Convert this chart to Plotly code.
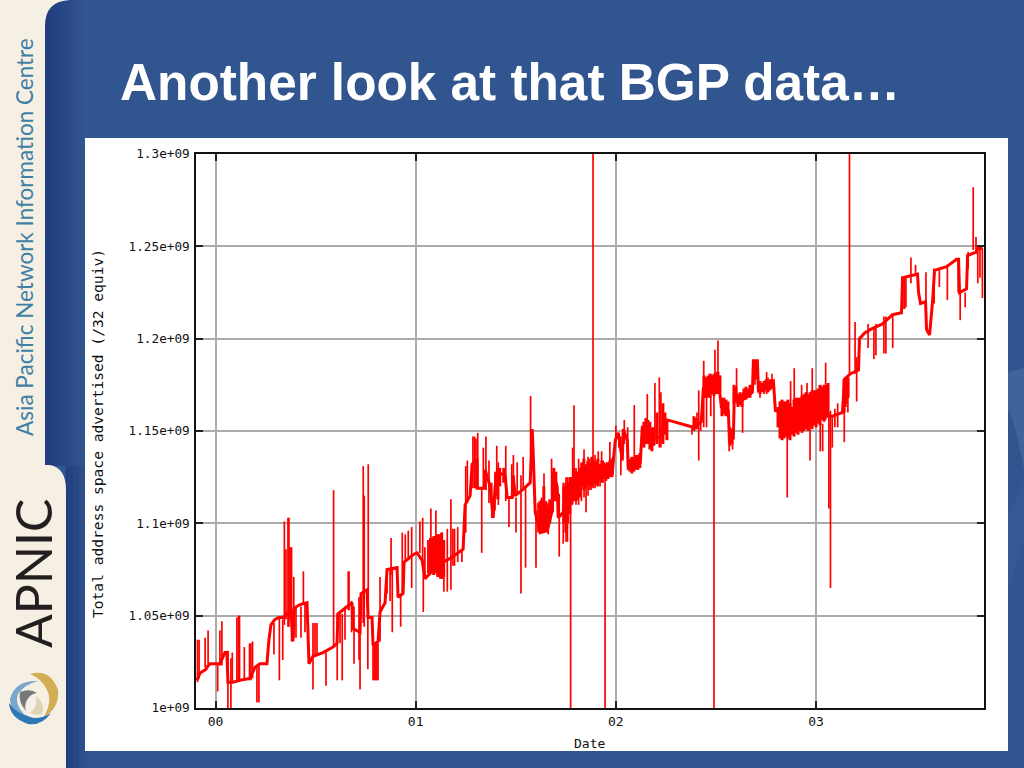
import plotly.graph_objects as go

title_text = "Another look at that BGP data…"
y_title = "Total address space advertised (/32 equiv)"
x_title = "Date"
y_ticks = [1.0e9, 1.05e9, 1.1e9, 1.15e9, 1.2e9, 1.25e9, 1.3e9]
y_labels = ["1e+09", "1.05e+09", "1.1e+09", "1.15e+09", "1.2e+09", "1.25e+09", "1.3e+09"]
x_ticks = [0, 1, 2, 3]
x_labels = ["00", "01", "02", "03"]

# main level of the series: year offset, millions of addresses
base_years = [-0.092, -0.077, -0.047, -0.044, -0.027, 0.022, 0.047, 0.057, 0.062, 0.087, 0.122, 0.172, 0.197, 0.222, 0.257,
              0.267, 0.277, 0.297, 0.317, 0.337, 0.357, 0.377, 0.387, 0.392, 0.422, 0.457, 0.462, 0.467, 0.487, 0.537,
              0.587, 0.607, 0.612, 0.647, 0.682, 0.687, 0.722, 0.727, 0.757, 0.762, 0.782, 0.787, 0.812, 0.822, 0.847,
              0.857, 0.907, 0.912, 0.937, 0.942, 0.987, 1.007, 1.032, 1.047, 1.072, 1.137, 1.172, 1.237, 1.247, 1.272,
              1.282, 1.307, 1.307, 1.347, 1.347, 1.372, 1.387, 1.397, 1.422, 1.447, 1.457, 1.482, 1.487, 1.497, 1.532,
              1.572, 1.582, 1.587, 1.597, 1.622, 1.657, 1.682, 1.687, 1.707, 1.712, 1.737, 1.747, 1.787, 1.807, 1.837,
              1.872, 1.922, 1.957, 1.982, 1.997, 2.012, 2.032, 2.037, 2.057, 2.062, 2.122, 2.132, 2.172, 2.182, 2.222,
              2.247, 2.257, 2.387, 2.427, 2.437, 2.472, 2.512, 2.527, 2.562, 2.567, 2.587, 2.592, 2.612, 2.647, 2.682,
              2.687, 2.707, 2.712, 2.787, 2.797, 3.082, 3.132, 3.142, 3.172, 3.212, 3.217, 3.242, 3.272, 3.332, 3.382,
              3.427, 3.432, 3.467, 3.507, 3.512, 3.522, 3.547, 3.552, 3.567, 3.582, 3.592, 3.617, 3.652, 3.702, 3.712,
              3.717, 3.752, 3.757, 3.802, 3.807, 3.832]
base_values = [1015, 1019, 1021, 1022, 1024, 1024, 1030, 1030, 1014, 1014, 1015, 1016, 1022, 1024, 1024,
               1037, 1045, 1048, 1049, 1049, 1051, 1053, 1036, 1054, 1056, 1057, 1041, 1024, 1028, 1030,
               1033, 1035, 1051, 1054, 1057, 1043, 1041, 1062, 1064, 1049, 1049, 1034, 1036, 1052, 1057,
               1075, 1076, 1060, 1062, 1079, 1083, 1084, 1080, 1070, 1073, 1079, 1081, 1086, 1110, 1115,
               1132, 1135, 1119, 1119, 1129, 1120, 1103, 1120, 1127, 1126, 1114, 1114, 1126, 1115, 1118,
               1122, 1151, 1138, 1106, 1095, 1096, 1107, 1127, 1120, 1103, 1106, 1116, 1118, 1113, 1127,
               1129, 1127, 1126, 1127, 1145, 1149, 1134, 1151, 1145, 1130, 1133, 1152, 1151, 1145, 1147,
               1156, 1156, 1152, 1155, 1173, 1176, 1178, 1163, 1161, 1145, 1146, 1171, 1165, 1168, 1171,
               1188, 1188, 1172, 1177, 1161, 1158, 1160, 1178, 1181, 1183, 1200, 1203, 1205, 1208, 1213,
               1214, 1233, 1234, 1235, 1225, 1219, 1220, 1205, 1202, 1220, 1237, 1238, 1239, 1243, 1243,
               1225, 1227, 1245, 1247, 1249, 1249]

# short excursions away from the main level
spike_years = [-0.090, -0.082, -0.052, -0.037, 0.011, 0.022, 0.032, 0.062, 0.077, 0.084, 0.107, 0.115, 0.120, 0.144, 0.170,
               0.177, 0.185, 0.207, 0.217, 0.292, 0.319, 0.336, 0.344, 0.352, 0.362, 0.367, 0.372, 0.377, 0.380, 0.391,
               0.402, 0.427, 0.439, 0.447, 0.487, 0.497, 0.507, 0.552, 0.590, 0.608, 0.622, 0.633, 0.647, 0.663, 0.667,
               0.680, 0.692, 0.717, 0.722, 0.738, 0.743, 0.763, 0.761, 0.787, 0.792, 0.797, 0.802, 0.807, 0.812, 0.822,
               0.857, 0.872, 0.877, 0.883, 0.925, 0.933, 0.948, 0.963, 0.980, 1.021, 1.035, 1.038, 1.046, 1.061, 1.071,
               1.076, 1.081, 1.091, 1.101, 1.111, 1.121, 1.131, 1.141, 1.158, 1.176, 1.186, 1.194, 1.210, 1.231, 1.250,
               1.258, 1.286, 1.294, 1.301, 1.310, 1.330, 1.338, 1.351, 1.366, 1.380, 1.396, 1.405, 1.413, 1.450, 1.466,
               1.480, 1.488, 1.501, 1.507, 1.526, 1.537, 1.549, 1.574, 1.601, 1.611, 1.629, 1.641, 1.662, 1.679, 1.686,
               1.717, 1.737, 1.751, 1.758, 1.774, 1.784, 1.791, 1.801, 1.814, 1.821, 1.828, 1.841, 1.851, 1.861, 1.868,
               1.876, 1.886, 1.896, 1.906, 1.912, 1.921, 1.929, 1.936, 1.946, 1.953, 1.970, 1.984, 2.000, 2.015, 2.025,
               2.042, 2.059, 2.092, 2.157, 2.195, 2.217, 2.225, 2.380, 2.390, 2.405, 2.414, 2.424, 2.439, 2.440, 2.453,
               2.460, 2.474, 2.480, 2.490, 2.495, 2.503, 2.510, 2.520, 2.535, 2.566, 2.583, 2.603, 2.633, 2.695, 2.720,
               2.740, 2.753, 2.760, 2.780, 2.856, 2.873, 2.891, 2.928, 2.955, 2.970, 2.981, 3.021, 3.033, 3.048, 3.064,
               3.072, 3.081, 3.094, 3.108, 3.141, 3.149, 3.159, 3.167, 3.195, 3.203, 3.260, 3.289, 3.299, 3.339, 3.349,
               3.383, 3.434, 3.442, 3.449, 3.474, 3.497, 3.549, 3.590, 3.616, 3.656, 3.710, 3.720, 3.745, 3.760, 3.785,
               3.799, 3.808, 3.819, 3.831]
spike_lows = [1014, 1016, 1022, 1022, 1009, 1023, 1023, 1000, 1000, 1014, 1015, 1015, 1015, 1015, 1015,
              1015, 1016, 1003, 1003, 1029, 1015, 1026, 1045, 1048, 1044, 1044, 1048, 1048, 1036, 1038,
              1038, 1038, 1056, 1041, 1010, 1028, 1028, 1012, 1033, 1015, 1035, 1015, 1037, 1053, 1053,
              1041, 1024, 1026, 1010, 1046, 1044, 1049, 1021, 1015, 1015, 1015, 1015, 1015, 1015, 1036,
              1062, 1058, 1072, 1041, 1044, 1062, 1079, 1080, 1065, 1084, 1079, 1052, 1070, 1073, 1073,
              1075, 1073, 1072, 1073, 1071, 1070, 1070, 1063, 1063, 1064, 1077, 1077, 1079, 1079, 1095,
              1111, 1119, 1119, 1119, 1119, 1084, 1119, 1118, 1111, 1103, 1107, 1120, 1110, 1112, 1098,
              1118, 1114, 1095, 1116, 1062, 1118, 1076, 1138, 1076, 1095, 1095, 1098, 1094, 1106, 1106,
              1082, 1089, 1090, 1090, 1000, 1111, 1114, 1110, 1110, 1115, 1112, 1114, 1106, 1115, 1118,
              1118, 1119, 1119, 1120, 1120, 1120, 1125, 1122, 1000, 1123, 1125, 1126, 1144, 1141, 1126,
              1143, 1130, 1133, 1149, 1147, 1141, 1141, 1148, 1150, 1151, 1134, 1150, 1152, 1168, 1152,
              1168, 1158, 1170, 1000, 1174, 1172, 1174, 1170, 1160, 1139, 1140, 1165, 1149, 1175, 1168,
              1170, 1170, 1171, 1173, 1114, 1150, 1149, 1155, 1156, 1134, 1152, 1139, 1139, 1156, 1108,
              1065, 1141, 1152, 1152, 1144, 1163, 1160, 1181, 1181, 1166, 1195, 1189, 1191, 1192, 1192,
              1195, 1216, 1216, 1217, 1230, 1234, 1214, 1219, 1228, 1221, 1225, 1210, 1217, 1238, 1248,
              1246, 1230, 1233, 1222]
spike_highs = [1037, 1037, 1038, 1042, 1024, 1042, 1047, 1031, 1027, 1030, 1049, 1050, 1050, 1033, 1035,
               1035, 1036, 1022, 1024, 1046, 1049, 1048, 1101, 1086, 1103, 1103, 1087, 1087, 1087, 1071,
               1055, 1055, 1074, 1057, 1046, 1046, 1046, 1030, 1118, 1051, 1051, 1051, 1055, 1074, 1074,
               1058, 1055, 1060, 1044, 1131, 1115, 1132, 1062, 1035, 1035, 1035, 1035, 1035, 1035, 1071,
               1075, 1075, 1092, 1076, 1062, 1095, 1094, 1096, 1098, 1101, 1103, 1080, 1087, 1091, 1092,
               1108, 1092, 1093, 1107, 1094, 1094, 1095, 1091, 1097, 1113, 1097, 1097, 1098, 1086, 1131,
               1134, 1147, 1147, 1146, 1149, 1119, 1141, 1147, 1134, 1122, 1127, 1142, 1133, 1142, 1114,
               1132, 1137, 1114, 1133, 1126, 1136, 1120, 1169, 1107, 1111, 1114, 1127, 1111, 1135, 1128,
               1116, 1122, 1125, 1125, 1125, 1141, 1164, 1130, 1135, 1128, 1132, 1140, 1129, 1136, 1135,
               1133, 1300, 1137, 1134, 1139, 1132, 1139, 1134, 1125, 1133, 1144, 1136, 1153, 1149, 1147,
               1156, 1152, 1164, 1170, 1176, 1179, 1171, 1153, 1155, 1160, 1172, 1158, 1188, 1180, 1177,
               1178, 1181, 1180, 1174, 1194, 1182, 1199, 1180, 1168, 1151, 1151, 1184, 1171, 1188, 1175,
               1177, 1182, 1179, 1181, 1166, 1177, 1184, 1175, 1176, 1152, 1184, 1154, 1154, 1187, 1160,
               1161, 1158, 1162, 1165, 1178, 1178, 1178, 1300, 1209, 1190, 1208, 1206, 1208, 1212, 1212,
               1213, 1233, 1233, 1233, 1244, 1240, 1236, 1238, 1238, 1240, 1243, 1225, 1225, 1247, 1282,
               1255, 1250, 1249, 1249]

# the solid bands, drawn with a heavier stroke
dense_years = [2.07, 2.08, 2.09, 2.10, 2.11, 2.12, 2.14, 2.15, 2.16, 2.17, 2.18, 2.19, 2.205, 2.235, 2.245, 2.255,
               2.81, 2.82, 2.83, 2.84, 2.85, 2.86, 2.87, 2.88, 2.89, 2.90, 2.91, 2.92, 2.93, 2.94, 2.95, 2.96,
               2.97, 2.98, 2.99, 3.00, 3.01, 3.02, 3.03, 3.04, 3.05, 3.06,
               1.07, 1.08, 1.09, 1.10, 1.11, 1.12, 1.13, 1.14,
               1.83, 1.84, 1.85, 1.86, 1.87, 1.88, 1.89, 1.90, 1.91, 1.92, 1.93, 1.94, 1.95, 1.96, 1.97, 1.98,
               1.62, 1.63, 1.64, 1.65, 1.66, 1.67, 1.69, 1.70, 1.74, 1.75, 1.76, 1.77, 1.78, 1.79, 1.80, 1.81, 1.82,
               1.40, 1.41, 1.42, 1.44,
               2.39, 2.40, 2.44, 2.45, 2.46, 2.47, 2.48, 2.49, 2.50, 2.51, 2.52, 2.53, 2.54, 2.55, 2.56, 2.57, 2.58,
               2.59, 2.60, 2.61, 2.62, 2.63, 2.64, 2.65, 2.66, 2.67, 2.69, 2.70, 2.72, 2.73, 2.74, 2.75, 2.76, 2.77, 2.78,
               3.14, 3.15, 3.16]
dense_lows = [1128, 1127, 1128, 1129, 1129, 1130, 1141, 1143, 1143, 1140, 1139, 1142, 1143, 1143, 1148, 1145,
              1152, 1146, 1145, 1146, 1147, 1146, 1145, 1148, 1147, 1149, 1148, 1150, 1149, 1150, 1151, 1150,
              1152, 1151, 1153, 1152, 1154, 1153, 1156, 1155, 1157, 1158,
              1073, 1073, 1072, 1073, 1071, 1071, 1070, 1071,
              1120, 1118, 1119, 1121, 1120, 1120, 1122, 1121, 1122, 1123, 1122, 1124, 1125, 1124, 1126, 1125,
              1097, 1095, 1096, 1096, 1097, 1100, 1112, 1112, 1100, 1095, 1100, 1105, 1110, 1112, 1112, 1114, 1114,
              1115, 1113, 1120, 1122,
              1150, 1151, 1168, 1168, 1169, 1168, 1170, 1169, 1170, 1170, 1171, 1158, 1159, 1158, 1159, 1142, 1143,
              1165, 1166, 1163, 1164, 1163, 1167, 1167, 1168, 1168, 1178, 1178, 1170, 1171, 1171, 1172, 1171, 1172, 1173,
              1160, 1165, 1168]
dense_highs = [1135, 1136, 1136, 1137, 1137, 1138, 1155, 1157, 1156, 1155, 1152, 1152, 1160, 1165, 1160, 1156,
               1163, 1166, 1167, 1166, 1166, 1167, 1165, 1163, 1167, 1168, 1168, 1168, 1169, 1170, 1171, 1170,
               1171, 1172, 1172, 1172, 1173, 1175, 1174, 1175, 1175, 1176,
               1091, 1092, 1093, 1093, 1094, 1094, 1095, 1091,
               1133, 1135, 1132, 1134, 1133, 1136, 1134, 1133, 1135, 1132, 1134, 1133, 1132, 1133, 1134, 1135,
               1112, 1113, 1120, 1112, 1110, 1113, 1130, 1128, 1120, 1122, 1122, 1125, 1125, 1130, 1128, 1128, 1130,
               1128, 1130, 1130, 1130,
               1158, 1157, 1180, 1179, 1180, 1181, 1180, 1181, 1180, 1182, 1180, 1167, 1168, 1167, 1166, 1152, 1151,
               1175, 1174, 1170, 1171, 1170, 1173, 1174, 1173, 1175, 1188, 1188, 1177, 1176, 1177, 1178, 1177, 1178, 1178,
               1178, 1178, 1179]


def bars(xs, lows, highs):
    px, py = [], []
    for a, lo, hi in zip(xs, lows, highs):
        px += [a, a, None]
        py += [lo * 1e6, hi * 1e6, None]
    return px, py


W, H = 1024, 768
L, R, T, B = 196, 984, 154, 708
PW, PH = R - L, B - T


def fx(v):
    return (v - L) / PW


def fy(v):
    return (B - v) / PH


def rect(x0, y0, x1, y1, color):
    return dict(type="rect", xref="paper", yref="paper", x0=fx(x0), x1=fx(x1), y0=fy(y0), y1=fy(y1),
                fillcolor=color, line_width=0, layer="below")


def path(cmds, color, opacity=1.0):
    parts = []
    for c in cmds:
        parts.append(c[0] + " " + " ".join(f"{fx(c[i]):.5f},{fy(c[i + 1]):.5f}" for i in range(1, len(c), 2)))
    return dict(type="path", xref="paper", yref="paper", path=" ".join(parts) + " Z", fillcolor=color,
                line_width=0, layer="below", opacity=opacity)


def mix(t):
    a, b = (33, 60, 125), (49, 85, 143)
    return "rgb(%d,%d,%d)" % tuple(round(a[i] + (b[i] - a[i]) * t) for i in range(3))


CREAM = "#f6efe3"
shapes = []
# side gradient on the blue field
for i in range(20):
    t = i / 19
    shapes.append(rect(45 + i * 2, 0, 47 + i * 2, 466, mix(t)))
    shapes.append(rect(66 + i * 1.2, 466, 67.2 + i * 1.2, H, mix(t)))
# faint swoosh at the right edge
shapes.append(path([("M", 1008, 372), ("L", 1024, 368), ("L", 1024, 470), ("Q", 1015, 420, 1008, 410)], "#7f9cc4", 0.2))
shapes.append(path([("M", 1008, 515), ("L", 1024, 480), ("L", 1024, 545), ("L", 1008, 590)], "#7f9cc4", 0.06))
# cream side band
shapes.append(rect(0, 0, 45, H, CREAM))
shapes.append(path([("M", 44, 0), ("L", 70, 0), ("Q", 45, 1, 45, 26), ("L", 44, 26)], CREAM))
shapes.append(path([("M", 44, 465), ("L", 50, 465), ("Q", 66, 468, 66, 490), ("L", 66, H), ("L", 44, H)], CREAM))
# logo ribbons
shapes.append(path([("M", 30, 674), ("Q", 50, 668, 58, 690), ("Q", 60, 708, 43, 718), ("Q", 53, 702, 47, 690), ("Q", 42, 679, 30, 674)], "#d1ad54"))
shapes.append(path([("M", 9, 703), ("Q", 10, 718, 28, 724), ("Q", 42, 726, 51, 713), ("Q", 40, 720, 30, 717), ("Q", 16, 712, 9, 703)], "#2f77b5"))
shapes.append(path([("M", 10, 699), ("Q", 15, 680, 38, 681), ("Q", 25, 684, 18, 694), ("Q", 14, 704, 24, 714), ("Q", 10, 710, 10, 699)], "#79a6cc"))
shapes.append(path([("M", 20, 692), ("Q", 30, 688, 37, 693), ("Q", 30, 694, 27, 700), ("Q", 24, 706, 26, 711), ("Q", 18, 702, 20, 692)], "#77787b"))
shapes.append(path([("M", 36, 696), ("Q", 46, 704, 42, 714), ("Q", 36, 716, 30, 713), ("Q", 38, 708, 36, 696)], "#ded2b4"))
# slide panel
shapes.append(rect(85, 138, 1008, 751, "#ffffff"))


def label(text, x, y, size, color, family, angle=0, bold=False, xanchor="center", yanchor="middle"):
    return dict(text=f"<b>{text}</b>" if bold else text, x=fx(x), y=fy(y), xref="paper", yref="paper", showarrow=False,
                font=dict(size=size, color=color, family=family), textangle=angle, xanchor=xanchor, yanchor=yanchor)


annotations = [
    label(title_text, 118, 83, 51.3, "#ffffff", "Liberation Sans", bold=True, xanchor="left"),
    label("Asia Pacific Network Information Centre", 24, 237, 22.5, "#3f7fa6", "Lato", angle=-90),
    label("APNIC", 33, 574, 50, "#231f20", "Lato", angle=-90),
    label(y_title, 97, 434, 14.6, "#111111", "DejaVu Sans Mono", angle=-90),
    label(x_title, 589, 743, 13, "#111111", "DejaVu Sans Mono"),
]

fig = go.Figure()
fig.add_trace(go.Scatter(x=base_years, y=[v * 1e6 for v in base_values], mode="lines",
                         line=dict(color="#ff0000", width=3), hoverinfo="skip"))
sx, sy = bars(spike_years, spike_lows, spike_highs)
fig.add_trace(go.Scatter(x=sx, y=sy, mode="lines", line=dict(color="#ff0000", width=1.7), hoverinfo="skip"))
dx, dy = bars(dense_years, dense_lows, dense_highs)
fig.add_trace(go.Scatter(x=dx, y=dy, mode="lines", line=dict(color="#ff0000", width=3), hoverinfo="skip"))

axis_common = dict(showline=True, linecolor="#111111", linewidth=1.5, mirror="allticks", ticks="inside", ticklen=7,
                   tickcolor="#222222", tickwidth=1.5, showgrid=True, gridcolor="#ababab", gridwidth=1.5, zeroline=False)
fig.update_layout(
    width=W, height=H, autosize=False, showlegend=False, hovermode=False,
    margin=dict(l=L, r=W - R, t=T, b=H - B, pad=0),
    paper_bgcolor="#31558f", plot_bgcolor="#ffffff",
    shapes=shapes, annotations=annotations,
    xaxis=dict(range=[-0.0974, 3.839], tickvals=x_ticks, ticktext=x_labels, ticklabelstandoff=1,
               tickfont=dict(family="DejaVu Sans Mono", size=13, color="#111111"), **axis_common),
    yaxis=dict(range=[1.0e9, 1.3e9], tickvals=y_ticks, ticktext=y_labels, ticklabelstandoff=2,
               tickfont=dict(family="DejaVu Sans Mono", size=12.7, color="#111111"), **axis_common),
)
fig.write_html("out.html", config=dict(displayModeBar=False),
               post_script="document.body.style.margin='0';document.documentElement.style.overflow='hidden';")
